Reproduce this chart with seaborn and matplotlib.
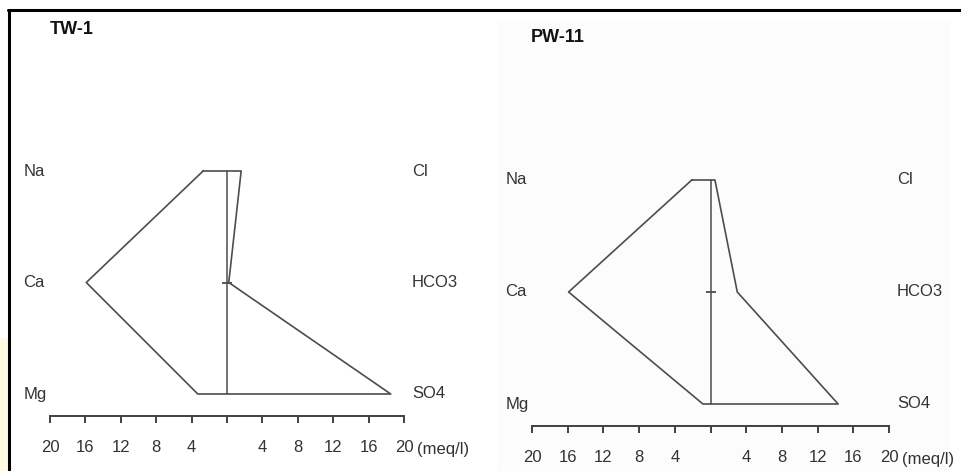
import numpy as np
import pandas as pd
import matplotlib
matplotlib.use("Agg")
import matplotlib.pyplot as plt
import seaborn as sns
from matplotlib.lines import Line2D
from matplotlib.patches import Rectangle

# ---------------- data ----------------
samples = ["TW-1", "PW-11"]
cations = ["Na", "Ca", "Mg"]
anions = ["Cl", "HCO3", "SO4"]
tw1_cations = [2.7, 15.9, 3.3]     # meq/l
tw1_anions = [1.6, 0.2, 18.5]
pw11_cations = [2.1, 15.9, 0.85]
pw11_anions = [0.5, 3.0, 14.3]
tick_values = [-20, -16, -12, -8, -4, 0, 4, 8, 12, 16, 20]
tick_labels = ["20", "16", "12", "8", "4", "", "4", "8", "12", "16", "20"]
unit_label = "(meq/l)"

sns.set_style("white")
plt.rcParams["font.family"] = ["Liberation Sans", "DejaVu Sans"]

W, H = 961, 471
fig = plt.figure(figsize=(W / 100, H / 100), dpi=100)
fig.patch.set_facecolor("white")

# page decorations (frame / background)
fig.add_artist(Rectangle((0, 0), 8 / W, (H - 338) / H, transform=fig.transFigure,
                         facecolor="#fffbe2", edgecolor="none", zorder=0))
fig.add_artist(Rectangle((497 / W, 0), (950 - 497) / W, (H - 20) / H, transform=fig.transFigure,
                         facecolor="#fcfcfc", edgecolor="none", zorder=0))
fig.add_artist(Line2D([8 / W, 1], [1 - 9.5 / H, 1 - 9.5 / H], transform=fig.transFigure,
                      color="black", lw=2.2, zorder=1))
fig.add_artist(Line2D([8.7 / W, 8.7 / W], [0, 1 - 9.5 / H], transform=fig.transFigure,
                      color="black", lw=2.2, zorder=1))

line_color = "#4d4d4d"
text_color = "#333333"

# panel geometry in pixels: x of -20, x of +20, y of Na row, y of Mg row, y of axis
panels = [
    dict(name=samples[0], cat=tw1_cations, an=tw1_anions,
         x0=50, x1=404, yna=171, ymg=394, yax=416, title_xy=(50, 29.5)),
    dict(name=samples[1], cat=pw11_cations, an=pw11_anions,
         x0=532, x1=889, yna=180, ymg=404, yax=426, title_xy=(531, 38)),
]

levels = [2, 1, 0]  # Na/Cl, Ca/HCO3, Mg/SO4

for p in panels:
    unit = (p["ymg"] - p["yna"]) / 2.0
    ytop = p["yna"] - 25
    ax = fig.add_axes([p["x0"] / W, 1 - p["yax"] / H,
                       (p["x1"] - p["x0"]) / W, (p["yax"] - ytop) / H])
    ax.set_xlim(-20, 20)
    ax.set_ylim(-(p["yax"] - p["ymg"]) / unit, 2 + (p["yna"] - ytop) / unit)
    ax.patch.set_alpha(0)

    xs = [-v for v in p["cat"]] + list(reversed(p["an"])) + [-p["cat"][0]]
    ys = levels + list(reversed(levels)) + [levels[0]]
    df = pd.DataFrame({"x": xs, "y": ys})
    sns.lineplot(data=df, x="x", y="y", sort=False, estimator=None, ax=ax,
                 color=line_color, lw=1.2)
    # centre line
    cdf = pd.DataFrame({"x": [0, 0], "y": [levels[0], levels[-1]]})
    sns.lineplot(data=cdf, x="x", y="y", sort=False, estimator=None, ax=ax,
                 color=line_color, lw=1.1)
    ax.plot([0], [levels[1]], marker="_", ms=7, mew=1.3, color=line_color)

    for lab, lv in zip(cations, levels):
        ax.text(-23.0, lv, lab, ha="left", va="center", fontsize=12, color=text_color)
    for lab, lv in zip(anions, levels):
        ax.text(20.9, lv, lab, ha="left", va="center", fontsize=12, color=text_color)

    for s in ["top", "left", "right"]:
        ax.spines[s].set_visible(False)
    ax.spines["bottom"].set_color("#404040")
    ax.spines["bottom"].set_linewidth(1.4)
    ax.set_xticks(tick_values)
    ax.set_xticklabels(tick_labels)
    ax.tick_params(axis="x", bottom=True, direction="out", length=5, width=1.4,
                   color="#404040", pad=12, labelsize=12, labelcolor=text_color)
    ax.set_yticks([])
    ax.set_xlabel("")
    ax.set_ylabel("")
    ax.annotate(unit_label, xy=(20, 0), xycoords=("data", "axes fraction"),
                xytext=(9.5, -24.3), textcoords="offset points",
                ha="left", va="center", fontsize=12, color=text_color)
    fig.text(p["title_xy"][0] / W, 1 - p["title_xy"][1] / H, p["name"],
             ha="left", va="center", fontsize=13, fontweight="bold",
             color="#111111")

fig.savefig("out.png", dpi=100)
